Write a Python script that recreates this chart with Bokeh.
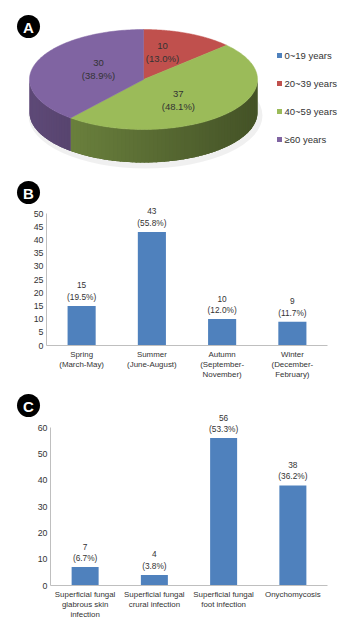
import numpy as np
from bokeh.plotting import figure
from bokeh.models import Range1d, LinearAxis, FixedTicker
from bokeh.core.properties import value
from bokeh.embed import file_html
from bokeh.resources import INLINE

# ---------------- data ----------------
# Panel A: age groups
age_groups = ["0~19 years", "20~39 years", "40~59 years", "\u226560 years"]
age_counts = [0, 10, 37, 30]
age_pct_labels = ["(0.0%)", "(13.0%)", "(48.1%)", "(38.9%)"]

# Panel B: seasons
seasons = ["Spring\n(March-May)", "Summer\n(June-August)",
           "Autumn\n(September-\nNovember)", "Winter\n(December-\nFebruary)"]
season_counts = [15, 43, 10, 9]
season_pct_labels = ["(19.5%)", "(55.8%)", "(12.0%)", "(11.7%)"]
season_ticks = [0, 5, 10, 15, 20, 25, 30, 35, 40, 45, 50]

# Panel C: infection types
infections = ["Superficial fungal\nglabrous skin\ninfection",
              "Superficial fungal\ncrural infection",
              "Superficial fungal\nfoot infection",
              "Onychomycosis"]
infection_counts = [7, 4, 56, 38]
infection_pct_labels = ["(6.7%)", "(3.8%)", "(53.3%)", "(36.2%)"]
infection_ticks = [0, 10, 20, 30, 40, 50, 60]

badges = ["A", "B", "C"]

# ---------------- styling ----------------
FONT = value("Liberation Sans")
BAR = "#4F81BD"
PIE_COLORS = ["#4F81BD", "#C0504D", "#9BBB59", "#8064A2"]
AXIS_COL = "#BFBFBF"
TXT = "#333333"

W, H = 361, 628
OFF = 0  # Bokeh's page template has no body margin

p = figure(width=W, height=H,
           x_range=Range1d(OFF, OFF + W), y_range=Range1d(OFF + H, OFF),
           x_axis_type=None, y_axis_type=None,
           toolbar_location=None, output_backend="svg",
           min_border=0, outline_line_color=None)
p.background_fill_color = "white"
p.border_fill_color = "white"

# panel frames (page pixel anchors)
B_X0, B_X1, B_Y0, B_YTOP = 46, 327, 345, 213
C_X0, C_X1, C_Y0, C_YTOP = 50, 327, 585, 427
b_ppx = (B_X1 - B_X0) / len(season_counts)
b_ppy = (B_Y0 - B_YTOP) / season_ticks[-1]
c_ppx = (C_X1 - C_X0) / len(infection_counts)
c_ppy = (C_Y0 - C_YTOP) / infection_ticks[-1]

p.extra_x_ranges = {
    "bx": Range1d((OFF - B_X0) / b_ppx, (OFF + W - B_X0) / b_ppx),
    "cx": Range1d((OFF - C_X0) / c_ppx, (OFF + W - C_X0) / c_ppx),
}
p.extra_y_ranges = {
    "by": Range1d((B_Y0 - (OFF + H)) / b_ppy, (B_Y0 - OFF) / b_ppy),
    "cy": Range1d((C_Y0 - (OFF + H)) / c_ppy, (C_Y0 - OFF) / c_ppy),
}

# ---------------- Panel A: 3D pie ----------------
cx, cy, rx, ry, depth = 143, 79, 114, 50, 33
total = sum(age_counts)
edges = np.concatenate([[0], np.cumsum(age_counts)]) / total * 2 * np.pi


def shade(hexcol, f):
    r, g, b = (int(hexcol[i:i + 2], 16) for i in (1, 3, 5))
    return "#%02x%02x%02x" % (int(r * f), int(g * f), int(b * f))


def side_f(x):
    xm = (x - (cx - rx)) / (2 * rx)
    return 0.74 - 0.30 * xm


# soft shadow under the pie
p.ellipse(x=[cx + 2], y=[cy + depth + 3], width=[2 * rx + 6],
          height=[2 * ry + 6], fill_color="#000000", fill_alpha=0.06,
          line_color=None)

# side walls (front half only): base polygon + gradient strips
bx_, by_, bc_ = [], [], []
sx, sy, sc = [], [], []
for i, cnt in enumerate(age_counts):
    if cnt == 0:
        continue
    a0 = max(edges[i], np.pi / 2)
    a1 = min(edges[i + 1], 3 * np.pi / 2)
    if a1 <= a0:
        continue
    th = np.linspace(a0, a1, 200)
    ex = cx + rx * np.sin(th)
    ey = cy - ry * np.cos(th)
    bx_.append(list(ex) + list(ex[::-1]))
    by_.append(list(ey) + list((ey + depth)[::-1]))
    bc_.append(shade(PIE_COLORS[i], side_f(ex.mean())))
    n = max(2, int(np.degrees(a1 - a0) / 2))
    tk = np.linspace(a0, a1, n + 1)
    for k in range(n):
        t0 = tk[k]
        t1 = min(tk[k + 1] + 0.012, a1)
        x0, x1 = cx + rx * np.sin(t0), cx + rx * np.sin(t1)
        y0, y1 = cy - ry * np.cos(t0), cy - ry * np.cos(t1)
        sx.append([x0, x1, x1, x0])
        sy.append([y0, y1, y1 + depth, y0 + depth])
        sc.append(shade(PIE_COLORS[i], side_f((x0 + x1) / 2)))
p.patches(bx_, by_, fill_color=bc_, line_color=None)
p.patches(sx, sy, fill_color=sc, line_color=None)

# top faces
tx, ty, tc = [], [], []
for i, cnt in enumerate(age_counts):
    if cnt == 0:
        continue
    th = np.linspace(edges[i], edges[i + 1], 120)
    tx.append([cx] + list(cx + rx * np.sin(th)))
    ty.append([cy] + list(cy - ry * np.cos(th)))
    tc.append(PIE_COLORS[i])
p.patches(tx, ty, fill_color=tc, line_color=tc, line_width=0.5)

# pie labels
lx, ly, lt = [], [], []
for i, cnt in enumerate(age_counts):
    if cnt == 0:
        continue
    mid = (edges[i] + edges[i + 1]) / 2
    lx.append(cx + 0.42 * rx * np.sin(mid))
    ly.append(cy - 0.60 * ry * np.cos(mid))
    lt.append(f"{cnt}\n{age_pct_labels[i]}")
p.text(lx, ly, text=lt, text_align="center", text_baseline="middle",
       text_font=FONT, text_font_size="9.5px", text_color=TXT,
       text_line_height=1.2)

# legend
leg_y = [55 + 28 * i for i in range(len(age_groups))]
p.scatter([279] * len(age_groups), leg_y, marker="square", size=5,
          fill_color=PIE_COLORS, line_color=None)
p.text([284] * len(age_groups), leg_y, text=age_groups, text_align="left",
       text_baseline="middle", text_font=FONT, text_font_size="9.5px",
       text_color=TXT)

# ---------------- badges ----------------
badge_y = [26, 192, 405]
p.scatter([28] * 3, badge_y, marker="circle", size=23, fill_color="black",
          line_color=None)
p.text([28] * 3, [y + 0.5 for y in badge_y], text=badges, text_align="center",
       text_baseline="middle", text_font=FONT, text_font_style="bold",
       text_font_size="15px", text_color="white")


# ---------------- bar panels ----------------
def bar_panel(xr, yr, cats, counts, pcts, ticks, width):
    xs = [i + 0.5 for i in range(len(cats))]
    p.vbar(x=xs, top=counts, bottom=0, width=width, x_range_name=xr,
           y_range_name=yr, fill_color=BAR, line_color=None)
    p.text(xs, counts, text=[f"{c}\n{q}" for c, q in zip(counts, pcts)],
           x_range_name=xr, y_range_name=yr, text_align="center",
           text_baseline="bottom", y_offset=-4, text_font=FONT,
           text_font_size="8.3px", text_color=TXT, text_line_height=1.15)
    yax = LinearAxis(x_range_name=xr, y_range_name=yr, fixed_location=0,
                     bounds=(ticks[0], ticks[-1]),
                     ticker=FixedTicker(ticks=ticks, minor_ticks=[]))
    xax = LinearAxis(x_range_name=xr, y_range_name=yr, fixed_location=0,
                     bounds=(0, len(cats)),
                     ticker=FixedTicker(ticks=xs, minor_ticks=[]),
                     major_label_overrides={x: c for x, c in zip(xs, cats)})
    for ax, st in ((yax, 3), (xax, 4)):
        ax.axis_line_color = AXIS_COL
        ax.axis_line_width = 1
        ax.major_tick_out = 0
        ax.major_tick_in = 0
        ax.minor_tick_out = 0
        ax.minor_tick_in = 0
        ax.major_label_standoff = st
        ax.major_label_text_font = "Liberation Sans"
        ax.major_label_text_color = TXT
    yax.major_label_text_font_size = "8.8px"
    xax.major_label_text_font_size = "7.9px"
    xax.major_label_text_line_height = 1.15
    p.add_layout(yax, "left")
    p.add_layout(xax, "below")


bar_panel("bx", "by", seasons, season_counts, season_pct_labels,
          season_ticks, 0.4)
bar_panel("cx", "cy", infections, infection_counts, infection_pct_labels,
          infection_ticks, 0.39)

open("out.html", "w").write(file_html(p, INLINE))
